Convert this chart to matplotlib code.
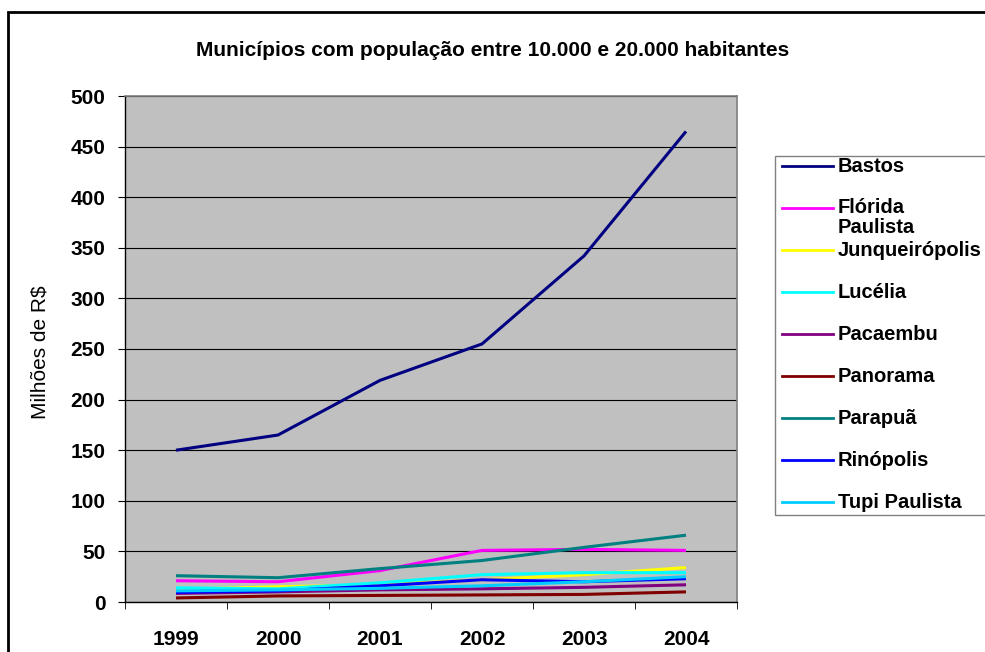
import matplotlib
import matplotlib.pyplot as plt
from matplotlib.lines import Line2D
from matplotlib.patches import Rectangle

matplotlib.use("Agg")
plt.rcParams["font.family"] = ["Liberation Sans", "DejaVu Sans"]

years = ["1999", "2000", "2001", "2002", "2003", "2004"]
towns = ["Bastos", "Flórida\nPaulista", "Junqueirópolis", "Lucélia", "Pacaembu",
         "Panorama", "Parapuã", "Rinópolis", "Tupi Paulista"]
bastos = [150, 165, 219, 255, 342, 465]
florida = [21, 20, 31, 51, 52, 51]
junqueiropolis = [12.5, 15, 17, 22, 27, 34]
lucelia = [14, 13, 19, 27, 29, 29]
pacaembu = [8.5, 10, 12, 13, 14.5, 17]
panorama = [4, 6, 6.5, 7, 7.5, 10]
parapua = [26, 24, 33, 41, 54, 66]
rinopolis = [9.5, 11, 16, 22, 20, 23]
tupi = [11, 12, 13.5, 16, 20, 25]
colors = ["#000080", "#FF00FF", "#FFFF00", "#00FFFF", "#800080",
          "#800000", "#008080", "#0000FF", "#00CCFF"]

series = [bastos, florida, junqueiropolis, lucelia, pacaembu,
          panorama, parapua, rinopolis, tupi]

W, H = 985, 652
FS = 15
fig = plt.figure(figsize=(W / 100, H / 100), dpi=100)

# outer chart frame
fig.add_artist(Rectangle((8 / W, -0.1), 1.2, 1 - 12 / H + 0.1, transform=fig.transFigure,
                         fill=False, edgecolor="black", linewidth=2))

ax = fig.add_axes([125 / W, 1 - 602 / H, (737 - 125) / W, (602 - 96) / H])
ax.set_facecolor("#C0C0C0")
x = list(range(len(years)))
for vals, c in zip(series, colors):
    ax.plot(x, vals, color=c, linewidth=2.2, solid_capstyle="butt")

ax.set_xlim(-0.5, len(years) - 0.5)
ax.set_ylim(0, 500)
ax.set_yticks(range(0, 501, 50))
ax.yaxis.grid(True, color="black", linewidth=0.8)
ax.set_axisbelow(True)
ax.set_xticks(x)
ax.set_xticklabels(years, fontsize=FS, fontweight="bold")
ax.set_xticks([i - 0.5 for i in range(len(years) + 1)], minor=True)
ax.tick_params(axis="x", which="major", length=0, pad=20)
ax.tick_params(axis="x", which="minor", length=5, direction="out")
ax.tick_params(axis="y", length=5, direction="out", pad=9)
for lbl in ax.get_yticklabels():
    lbl.set_fontsize(FS)
    lbl.set_fontweight("bold")
for s in ("top", "right"):
    ax.spines[s].set_color("#808080")
    ax.spines[s].set_linewidth(1.2)
for s in ("left", "bottom"):
    ax.spines[s].set_color("black")
    ax.spines[s].set_linewidth(1)

fig.text(40 / W, 1 - 352 / H, "Milhões de R$", rotation=90, fontsize=FS,
         ha="center", va="center")
fig.text(493 / W, 1 - 50 / H, "Municípios com população entre 10.000 e 20.000 habitantes",
         fontsize=FS, fontweight="bold", ha="center", va="center")

# legend box
fig.add_artist(Rectangle((775 / W, 1 - 515 / H), 0.3, (515 - 156) / H,
                         transform=fig.transFigure, fill=False,
                         edgecolor="#808080", linewidth=1))
for i, (name, c) in enumerate(zip(towns, colors)):
    y = 1 - (166 + i * 42) / H
    fig.add_artist(Line2D([782 / W, 833 / W], [y, y], transform=fig.transFigure,
                          color=c, linewidth=2))
    t = fig.text(838 / W, y, name, fontsize=14.5, fontweight="bold", va="center",
                 linespacing=1.05, transform=fig.transFigure)
    if "\n" in name:
        # two-line label: keep the first line level with its key
        t.set_va("top")
        t.set_y(1 - (208 - 10) / H)

fig.savefig("out.png", dpi=100)
